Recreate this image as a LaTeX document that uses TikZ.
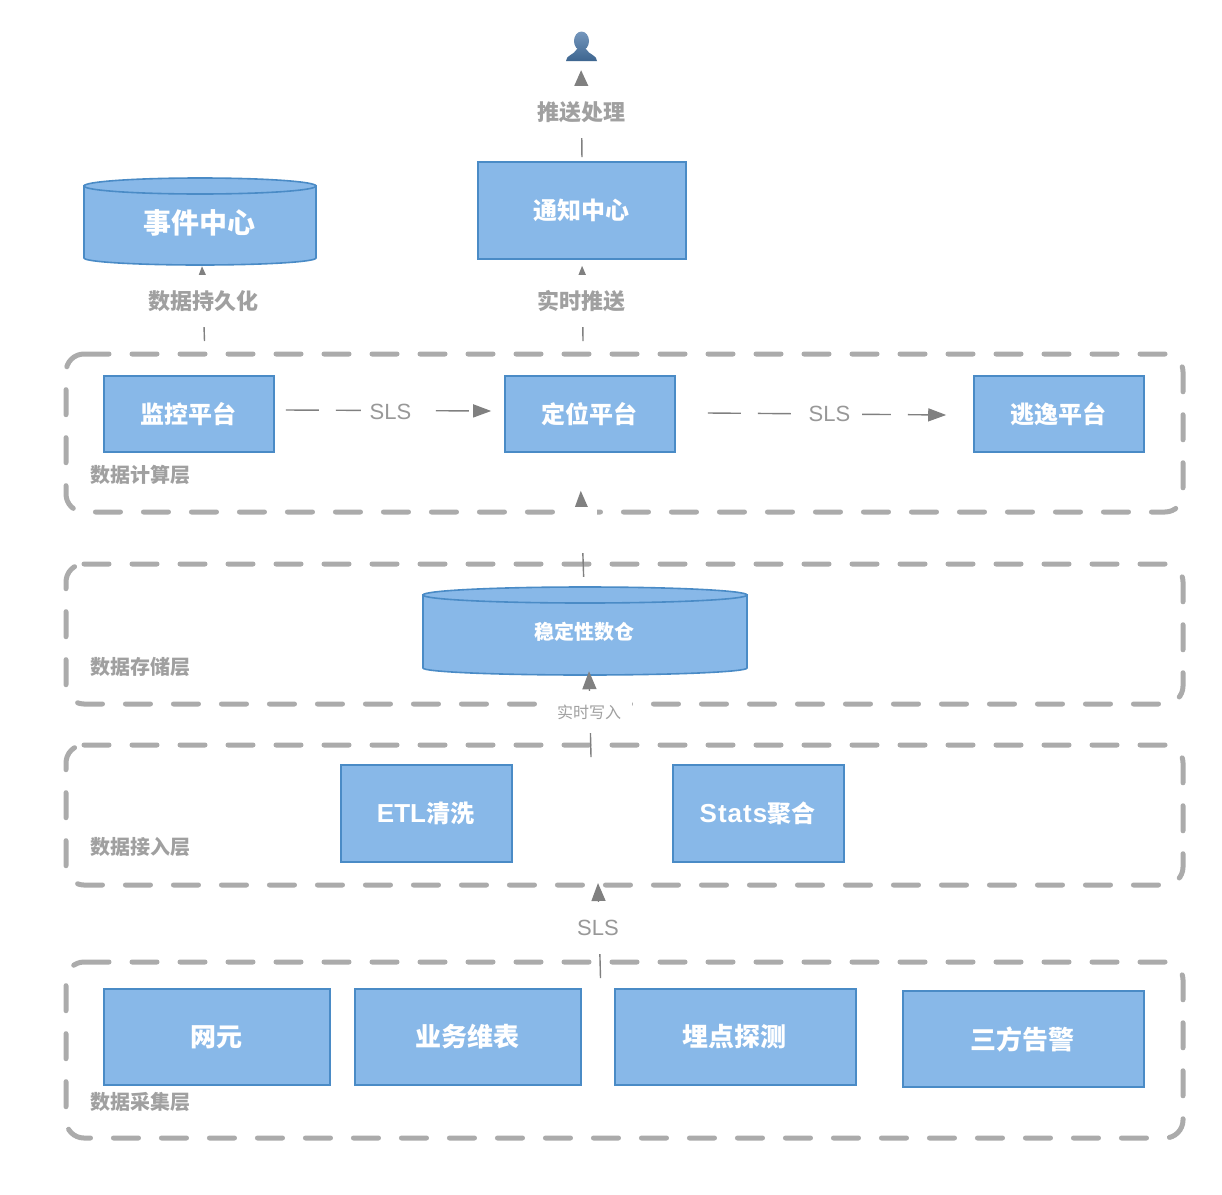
\documentclass[tikz,border=0pt]{standalone}
\usepackage{fontspec}
\setmainfont{Noto Sans CJK SC}
\newfontfamily\latinface{Liberation Sans}
\newfontfamily\latinwide[LetterSpace=4]{Liberation Sans}
\usetikzlibrary{arrows.meta}
\definecolor{boxfill}{HTML}{88B8E8}
\definecolor{boxedge}{HTML}{4A8BC6}
\definecolor{frameline}{HTML}{ABABAB}
\definecolor{linkline}{HTML}{808080}
\definecolor{labeltext}{HTML}{A0A0A0}
\definecolor{persontop}{HTML}{7597BD}
\definecolor{personbottom}{HTML}{3D658F}
\tikzset{
  x=1pt, y=-1pt,
  framedash/.style={draw=frameline, line width=5pt, line cap=round, dash pattern=on 25pt off 23pt, rounded corners=18pt},
  bluebox/.style={draw=boxedge, line width=1.6pt, fill=boxfill, text=white, font=\bfseries\fontsize{24}{28}\selectfont, inner sep=0pt, execute at begin node=\kern-2pt},
  cyltext/.style={text=white, font=\bfseries\fontsize{#1}{#1}\selectfont, inner sep=0pt, execute at begin node=\kern-2pt},
  link/.style={draw=linkline, line width=1.4pt},
  bigtip/.style={-{Triangle[width=14pt,length=16pt]}},
  longtip/.style={-{Triangle[width=14pt,length=18pt]}},
  smalltip/.style={-{Triangle[width=7pt,length=9pt]}},
  dashlink/.style={link, dash pattern=on 33pt off 17pt},
  edgelabel/.style={fill=white, text=labeltext, font=\bfseries\fontsize{22}{26}\selectfont, inner sep=0pt},
  slslabel/.style={fill=white, text=labeltext!95!black, font=\latinface\fontsize{22}{26}\selectfont, inner sep=0pt},
  layerlabel/.style={text=labeltext, font=\bfseries\fontsize{20}{24}\selectfont, inner sep=0pt},
}
% layer outline: x from 66 to 1183, arguments are top and bottom y
\newcommand{\layerframe}[2]{%
  \draw[framedash] (84,#1) -- (1183,#1) -- (1183,#2) -- (66,#2) -- (66,#1) -- (84,#1);
}
% cylinder: name, x0, x1, top y, bottom y, size, text
\newcommand{\drum}[7]{%
  \pgfmathsetmacro{\dxa}{#2}\pgfmathsetmacro{\dxb}{#3}%
  \pgfmathsetmacro{\dya}{#4}\pgfmathsetmacro{\dyb}{#5}%
  \pgfmathsetmacro{\drx}{(\dxb-\dxa)/2}\pgfmathsetmacro{\dcx}{(\dxa+\dxb)/2}%
  \pgfmathsetmacro{\dyc}{\dya+8}\pgfmathsetmacro{\dyd}{\dyb-7}%
  \draw[draw=boxedge, line width=1.6pt, fill=boxfill] (\dxa,\dyc) -- (\dxa,\dyd)
    arc[start angle=180, end angle=0, x radius=\drx, y radius=7] -- (\dxb,\dyc) -- cycle;
  \draw[draw=boxedge, line width=1.6pt, fill=boxfill] (\dcx,\dyc) ellipse [x radius=\drx, y radius=8];
  \node[cyltext=#6, minimum width=\dxb pt-\dxa pt, minimum height=\dyb pt-\dya pt] (#1) at (\dcx,{(\dya+\dyb)/2+1}) {#7};
}
\begin{document}
\begin{tikzpicture}
\useasboundingbox[fill=white] (0,0) rectangle (1222,1194);

% layer outlines
\layerframe{354}{512}
\layerframe{564}{704}
\layerframe{745}{885}
\layerframe{962}{1138}

% processing boxes
\node[bluebox, minimum width=170pt, minimum height=76pt] (monitor) at (189,414) {监控平台};
\node[bluebox, minimum width=170pt, minimum height=76pt] (locate) at (590,414) {定位平台};
\node[bluebox, minimum width=170pt, minimum height=76pt] (escape) at (1059,414) {逃逸平台};
\node[bluebox, minimum width=208pt, minimum height=97pt] (notify) at (582,210.5) {通知中心};
\node[bluebox, minimum width=171pt, minimum height=97pt] (etl) at (426.5,813.5) {{\latinface\fontsize{26}{28}\selectfont ETL}清洗};
\node[bluebox, minimum width=171pt, minimum height=97pt] (stats) at (758.5,813.5) {{\latinwide\fontsize{26}{28}\selectfont Stats}聚合};
\node[bluebox, minimum width=226pt, minimum height=96pt, font=\bfseries\fontsize{26}{30}\selectfont] (netel) at (217,1037) {网元};
\node[bluebox, minimum width=226pt, minimum height=96pt, font=\bfseries\fontsize{26}{30}\selectfont] (bizdim) at (468,1037) {业务维表};
\node[bluebox, minimum width=241pt, minimum height=96pt, font=\bfseries\fontsize{26}{30}\selectfont] (probe) at (735.5,1037) {埋点探测};
\node[bluebox, minimum width=241pt, minimum height=96pt, font=\bfseries\fontsize{26}{30}\selectfont] (third) at (1023.5,1039) {三方告警};

% storage drums
\drum{events}{84}{316}{178}{265}{28}{事件中心}
\drum{warehouse}{423}{747}{587}{675}{20}{稳定性数仓}

% person at the end of the push chain
\node[minimum width=30pt, minimum height=30pt, inner sep=0pt] (user) at (581,46) {};
\shade[top color=persontop, bottom color=personbottom]
  (581.5,41) ellipse [x radius=7.5, y radius=9.5]
  (566,61) .. controls (566,55) and (574,55) .. (577,49) -- (586,49) .. controls (589,55) and (597,55) .. (597,61) -- cycle;

% upward links with their labels
\draw[link, bigtip, shorten <=4pt, shorten >=9pt] (notify.north) -- (user.south);
\node[edgelabel, minimum width=100pt, minimum height=52pt] (lblpush) at (581,112) {推送处理};

\coordinate (calcnotify) at (583,341);
\draw[link, smalltip, shorten >=6pt] (calcnotify) -- (notify.south);
\node[edgelabel, minimum width=100pt, minimum height=52pt] (lblrt) at (581,301) {实时推送};

\coordinate (calcevents) at (204.5,341);
\draw[link, smalltip] (calcevents) -- ([xshift=2pt]events.south);
\node[edgelabel, minimum width=120pt, minimum height=52pt] (lblpersist) at (203,301) {数据持久化};

\draw[link, longtip, shorten <=11pt, shorten >=38pt] ([xshift=-1pt]warehouse.north) -- ([xshift=-10.5pt]locate.south);
\node[fill=white, minimum width=41pt, minimum height=46pt, inner sep=0pt] (gapcalc) at (576.5,530) {};

\coordinate (ingestup) at (591,757);
\draw[link, longtip] (ingestup) -- ([shift={(4,-5)}]warehouse.south);
\node[edgelabel, minimum width=86pt, minimum height=42pt, font=\fontsize{16}{20}\selectfont] (lblwrite) at (589,712) {实时写入};

\coordinate (collectup) at (600.5,978);
\coordinate (ingesttop) at (598,883);
\draw[link, longtip] (collectup) -- (ingesttop);
\node[slslabel, minimum width=60pt, minimum height=52pt] (lblsls) at (598,928) {SLS};

% horizontal links between the computing platforms
\draw[dashlink, -{Triangle[width=13pt,length=18pt]}] ([shift={(11,-4)}]monitor.east) -- ([shift={(-13,-3)}]locate.west);
\node[slslabel, minimum width=60pt, minimum height=30pt] (lblslsa) at (390.5,412) {SLS};
\draw[dashlink, -{Triangle[width=13pt,length=18pt]}] ([shift={(32,-1)}]locate.east) -- ([shift={(-27,1)}]escape.west);
\node[slslabel, minimum width=64pt, minimum height=30pt] (lblslsb) at (829.5,414) {SLS};

% layer captions
\node[layerlabel, anchor=west] (capcalc) at (90,475) {数据计算层};
\node[layerlabel, anchor=west] (capstore) at (90,667) {数据存储层};
\node[layerlabel, anchor=west] (capingest) at (90,847) {数据接入层};
\node[layerlabel, anchor=west] (capcollect) at (90,1102) {数据采集层};
\end{tikzpicture}
\end{document}
